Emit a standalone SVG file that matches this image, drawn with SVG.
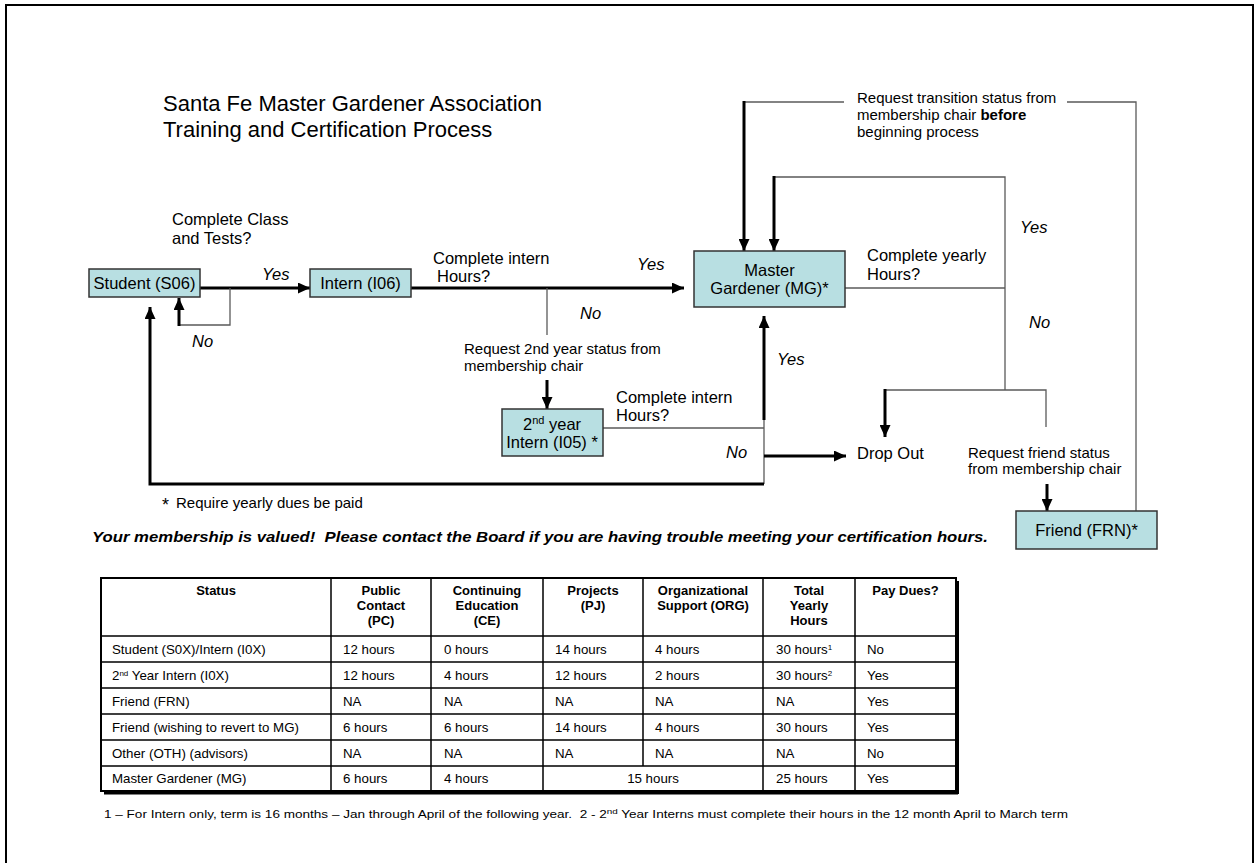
<svg xmlns="http://www.w3.org/2000/svg" width="1259" height="863" viewBox="0 0 1259 863">
<style>
text{font-family:"Liberation Sans",Arial,sans-serif;fill:#000}
.node{fill:#b8dfe2;stroke:#333;stroke-width:1.5}
.nt{font-size:16.5px;text-anchor:middle}
.lb{font-size:16.5px}
.it{font-size:16.5px;font-style:italic}
.sm{font-size:15px}
.thick{stroke:#000;stroke-width:3;fill:none}
.thin{stroke:#5a5a5a;stroke-width:1.3;fill:none}
.arr{marker-end:url(#ah)}
.th{font-size:13px;font-weight:bold;text-anchor:middle}
.td{font-size:13.3px}
.grid{stroke:#000;stroke-width:1.5;fill:none}
</style>
<defs>
<marker id="ah" markerUnits="userSpaceOnUse" markerWidth="12" markerHeight="11" refX="12" refY="5.5" orient="auto">
<path d="M0,0 L12,5.5 L0,11 z" fill="#000"/>
</marker>
</defs>
<rect x="6" y="5" width="1247" height="870" fill="#fff" stroke="#000" stroke-width="2"/>
<g id="title">
<text x="163" y="111" font-size="22">Santa Fe Master Gardener Association</text>
<text x="163" y="137" font-size="22">Training and Certification Process</text>
</g>
<g id="connectors">
<line class="thick arr" x1="200" y1="288" x2="310" y2="288"/>
<polyline class="thin" points="230,288 230,325 179,325"/>
<line class="thick arr" x1="179" y1="326" x2="179" y2="298"/>
<line class="thick arr" x1="411" y1="288" x2="684" y2="288"/>
<line class="thin" x1="547" y1="288" x2="547" y2="335"/>
<line class="thick arr" x1="547" y1="380" x2="547" y2="409"/>
<line class="thin" x1="603" y1="428" x2="764" y2="428"/>
<line class="thin" x1="764" y1="419" x2="764" y2="484"/>
<line class="thick arr" x1="764" y1="420" x2="764" y2="316"/>
<line class="thick arr" x1="764" y1="456" x2="846" y2="456"/>
<polyline class="thick arr" points="764,484 150,484 150,307"/>
<line class="thin" x1="744" y1="102" x2="844" y2="102"/>
<line class="thick arr" x1="744" y1="101" x2="744" y2="251"/>
<polyline class="thin" points="1067,102 1136,102 1136,511"/>
<polyline class="thin" points="774,177 1005,177 1005,390"/>
<line class="thick arr" x1="774" y1="176" x2="774" y2="251"/>
<line class="thin" x1="845" y1="288" x2="1005" y2="288"/>
<polyline class="thin" points="885,390 1046,390 1046,427"/>
<line class="thick arr" x1="885" y1="389" x2="885" y2="437"/>
<line class="thick arr" x1="1047" y1="484" x2="1047" y2="511"/>
</g>
<g id="labels">
<text class="lb" x="172" y="225">Complete Class</text>
<text class="lb" x="172" y="244">and Tests?</text>
<text class="it" x="262" y="280">Yes</text>
<text class="it" x="192" y="347">No</text>
<text class="lb" x="433" y="264">Complete intern</text>
<text class="lb" x="437" y="282">Hours?</text>
<text class="it" x="637" y="270">Yes</text>
<text class="it" x="580" y="319">No</text>
<text class="sm" x="464" y="354">Request 2nd year status from</text>
<text class="sm" x="464" y="371">membership chair</text>
<text class="lb" x="616" y="403">Complete intern</text>
<text class="lb" x="616" y="421">Hours?</text>
<text class="it" x="777" y="365">Yes</text>
<text class="it" x="726" y="458">No</text>
<text class="lb" x="857" y="459">Drop Out</text>
<text class="sm" x="968" y="458">Request friend status</text>
<text class="sm" x="968" y="474">from membership chair</text>
<text class="lb" x="867" y="261">Complete yearly</text>
<text class="lb" x="867" y="280">Hours?</text>
<text class="it" x="1020" y="233">Yes</text>
<text class="it" x="1029" y="328">No</text>
<text class="sm" x="857" y="103">Request transition status from</text>
<text class="sm" x="857" y="120">membership chair <tspan font-weight="bold">before</tspan></text>
<text class="sm" x="857" y="137">beginning process</text>
</g>
<g id="student">
<rect class="node" x="89" y="269" width="111" height="28"/>
<text class="nt" x="144.5" y="289">Student (S06)</text>
</g>
<g id="intern">
<rect class="node" x="310" y="269" width="101" height="28"/>
<text class="nt" x="360.5" y="289">Intern (I06)</text>
</g>
<g id="intern2">
<rect class="node" x="502" y="409" width="101" height="47"/>
<text class="nt" x="552" y="430">2<tspan font-size="11" baseline-shift="super">nd</tspan> year</text>
<text class="nt" x="552" y="448">Intern (I05) *</text>
</g>
<g id="mg">
<rect class="node" x="694" y="251" width="151" height="56"/>
<text class="nt" x="769.5" y="276">Master</text>
<text class="nt" x="769.5" y="294">Gardener (MG)*</text>
</g>
<g id="friend">
<rect class="node" x="1016" y="511" width="141" height="38"/>
<text class="nt" x="1086.5" y="536">Friend (FRN)*</text>
</g>
<g id="notes">
<text x="162" y="511" font-size="18">*</text>
<text x="176" y="508" font-size="15">Require yearly dues be paid</text>
<text x="92" y="542" font-size="15" font-weight="bold" font-style="italic" textLength="896" lengthAdjust="spacingAndGlyphs">Your membership is valued!&#160; Please contact the Board if you are having trouble meeting your certification hours.</text>
<text x="104" y="818" font-size="11" textLength="964" lengthAdjust="spacingAndGlyphs">1 – For Intern only, term is 16 months – Jan through April of the following year.&#160; 2 - 2<tspan font-size="8" baseline-shift="super">nd</tspan> Year Interns must complete their hours in the 12 month April to March term</text>
</g>
<g id="table">
<line x1="104" y1="793" x2="958" y2="793" stroke="#000" stroke-width="3"/>
<line x1="957.5" y1="581" x2="957.5" y2="794" stroke="#000" stroke-width="3"/>
<rect x="101" y="578" width="855" height="213" fill="#fff" stroke="#000" stroke-width="2"/>
<path class="grid" d="M101,636H956 M101,662H956 M101,688H956 M101,714H956 M101,740H956 M101,766H956 M331,578V791 M431,578V791 M543,578V791 M643,578V766 M763,578V791 M855,578V791"/>
<text class="th" x="216" y="595">Status</text>
<text class="th" x="381" y="595">Public</text>
<text class="th" x="381" y="610">Contact</text>
<text class="th" x="381" y="625">(PC)</text>
<text class="th" x="487" y="595">Continuing</text>
<text class="th" x="487" y="610">Education</text>
<text class="th" x="487" y="625">(CE)</text>
<text class="th" x="593" y="595">Projects</text>
<text class="th" x="593" y="610">(PJ)</text>
<text class="th" x="703" y="595">Organizational</text>
<text class="th" x="703" y="610">Support (ORG)</text>
<text class="th" x="809" y="595">Total</text>
<text class="th" x="809" y="610">Yearly</text>
<text class="th" x="809" y="625">Hours</text>
<text class="th" x="905.5" y="595">Pay Dues?</text>
<g>
<text class="td" x="112" y="654">Student (S0X)/Intern (I0X)</text>
<text class="td" x="343" y="654">12 hours</text>
<text class="td" x="444" y="654">0 hours</text>
<text class="td" x="555" y="654">14 hours</text>
<text class="td" x="655" y="654">4 hours</text>
<text class="td" x="776" y="654">30 hours<tspan font-size="8" baseline-shift="super">1</tspan></text>
<text class="td" x="867" y="654">No</text>
<text class="td" x="112" y="680">2<tspan font-size="8" baseline-shift="super">nd</tspan> Year Intern (I0X)</text>
<text class="td" x="343" y="680">12 hours</text>
<text class="td" x="444" y="680">4 hours</text>
<text class="td" x="555" y="680">12 hours</text>
<text class="td" x="655" y="680">2 hours</text>
<text class="td" x="776" y="680">30 hours<tspan font-size="8" baseline-shift="super">2</tspan></text>
<text class="td" x="867" y="680">Yes</text>
<text class="td" x="112" y="706">Friend (FRN)</text>
<text class="td" x="343" y="706">NA</text>
<text class="td" x="444" y="706">NA</text>
<text class="td" x="555" y="706">NA</text>
<text class="td" x="655" y="706">NA</text>
<text class="td" x="776" y="706">NA</text>
<text class="td" x="867" y="706">Yes</text>
<text class="td" x="112" y="732">Friend (wishing to revert to MG)</text>
<text class="td" x="343" y="732">6 hours</text>
<text class="td" x="444" y="732">6 hours</text>
<text class="td" x="555" y="732">14 hours</text>
<text class="td" x="655" y="732">4 hours</text>
<text class="td" x="776" y="732">30 hours</text>
<text class="td" x="867" y="732">Yes</text>
<text class="td" x="112" y="758">Other (OTH) (advisors)</text>
<text class="td" x="343" y="758">NA</text>
<text class="td" x="444" y="758">NA</text>
<text class="td" x="555" y="758">NA</text>
<text class="td" x="655" y="758">NA</text>
<text class="td" x="776" y="758">NA</text>
<text class="td" x="867" y="758">No</text>
<text class="td" x="112" y="783">Master Gardener (MG)</text>
<text class="td" x="343" y="783">6 hours</text>
<text class="td" x="444" y="783">4 hours</text>
<text class="td" x="653" y="783" text-anchor="middle">15 hours</text>
<text class="td" x="776" y="783">25 hours</text>
<text class="td" x="867" y="783">Yes</text>
</g>
</g>
</svg>
